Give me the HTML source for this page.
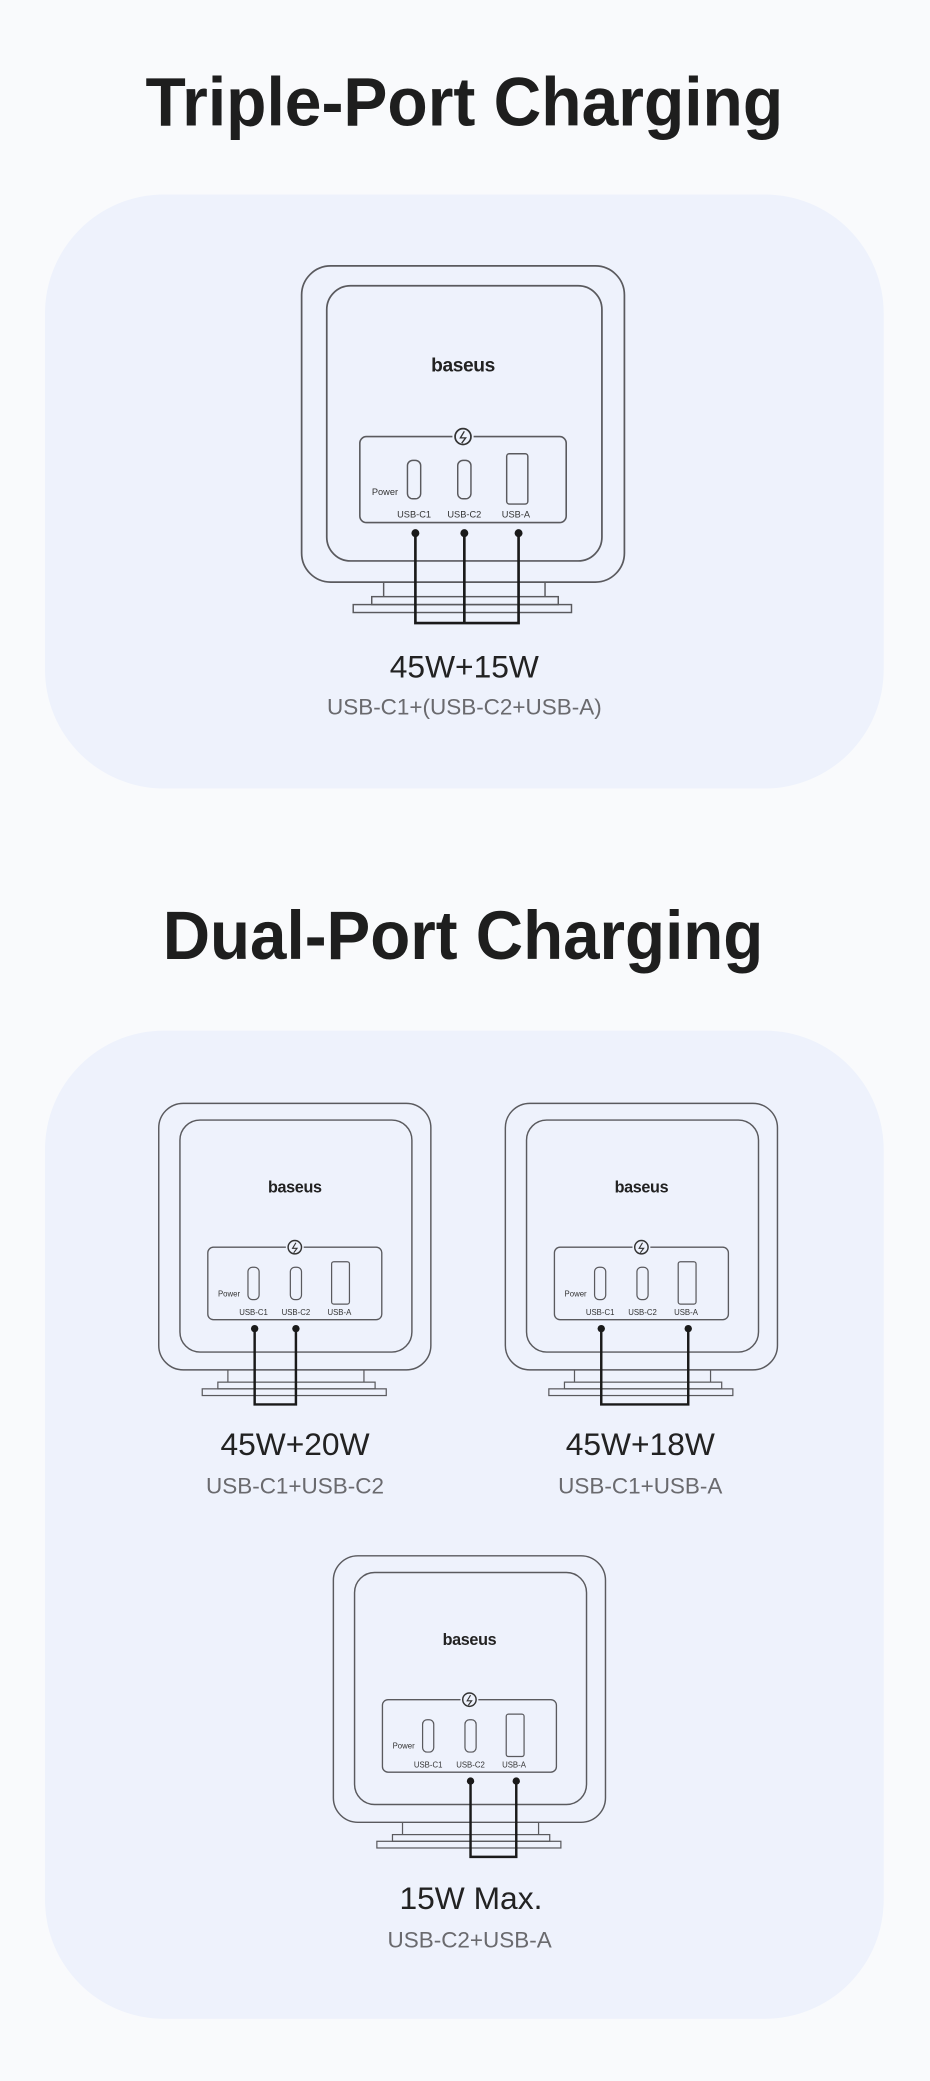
<!DOCTYPE html>
<html><head><meta charset="utf-8"><style>
html,body{margin:0;padding:0;background:#f9fafc;}
svg{display:block;}
text{font-family:"Liberation Sans",sans-serif;}
</style></head><body>
<svg width="930" height="2081" viewBox="0 0 703 1573" preserveAspectRatio="none" xmlns="http://www.w3.org/2000/svg">
<defs>
<g id="dev">
  <rect x="0" y="0" width="244" height="239" rx="22" fill="none" stroke="#5a5a5e" stroke-width="1.3"/>
  <rect x="19" y="15" width="208" height="208" rx="18" fill="none" stroke="#5a5a5e" stroke-width="1.3"/>
  <text x="122" y="80" font-size="14.5" font-weight="bold" text-anchor="middle" fill="#222" letter-spacing="-0.3">baseus</text>
  <rect x="44" y="129" width="156" height="65" rx="5" fill="none" stroke="#5a5a5e" stroke-width="1.2"/>
  <rect x="114" y="125" width="16" height="8" fill="#eef2fc"/>
  <circle cx="122" cy="129" r="6" fill="none" stroke="#333" stroke-width="1.3"/>
  <path d="M123 125 L120 130 L124 130 L121 134" fill="none" stroke="#333" stroke-width="1"/>
  <rect x="80" y="147" width="10" height="29" rx="4" fill="none" stroke="#5a5a5e" stroke-width="1.1"/>
  <rect x="118" y="147" width="10" height="29" rx="4" fill="none" stroke="#5a5a5e" stroke-width="1.1"/>
  <rect x="155" y="142" width="16" height="38" rx="2" fill="none" stroke="#5a5a5e" stroke-width="1.1"/>
  <text x="63" y="173" font-size="7" text-anchor="middle" fill="#333">Power</text>
  <text x="85" y="190" font-size="7" text-anchor="middle" fill="#333">USB-C1</text>
  <text x="123" y="190" font-size="7" text-anchor="middle" fill="#333">USB-C2</text>
  <text x="162" y="190" font-size="7" text-anchor="middle" fill="#333">USB-A</text>
  <path d="M62 239 V250 M184 239 V250" stroke="#5a5a5e" stroke-width="1.1" fill="none"/>
  <rect x="53" y="250" width="141" height="6" fill="none" stroke="#5a5a5e" stroke-width="1.1"/>
  <rect x="39" y="256" width="165" height="6" fill="none" stroke="#5a5a5e" stroke-width="1.1"/>
</g>
</defs>
<rect width="703" height="1573" fill="#f9fafc"/>
<text x="351" y="95" font-size="52" font-weight="bold" text-anchor="middle" fill="#1e1e1e" textLength="482" lengthAdjust="spacingAndGlyphs">Triple-Port Charging</text>
<rect x="34" y="147" width="634" height="449" rx="90" fill="#eef2fc"/>
<g transform="translate(228,201)">
  <use href="#dev"/>
  <path d="M86 202 V270 H164 V202 M123 202 V270" fill="none" stroke="#1a1a1a" stroke-width="2"/>
  <circle cx="86" cy="202" r="3" fill="#1a1a1a"/><circle cx="123" cy="202" r="3" fill="#1a1a1a"/><circle cx="164" cy="202" r="3" fill="#1a1a1a"/>
</g>
<text x="351" y="512" font-size="24" text-anchor="middle" fill="#222">45W+15W</text>
<text x="351" y="540" font-size="17" text-anchor="middle" fill="#6a6a6e">USB-C1+(USB-C2+USB-A)</text>

<text x="350" y="725" font-size="52" font-weight="bold" text-anchor="middle" fill="#1e1e1e" textLength="454" lengthAdjust="spacingAndGlyphs">Dual-Port Charging</text>
<rect x="34" y="779" width="634" height="747" rx="90" fill="#eef2fc"/>

<g transform="translate(120,834) scale(0.843)">
  <use href="#dev"/>
  <path d="M86 202 V270 H123 V202" fill="none" stroke="#1a1a1a" stroke-width="2.2"/>
  <circle cx="86" cy="202" r="3.3" fill="#1a1a1a"/><circle cx="123" cy="202" r="3.3" fill="#1a1a1a"/>
</g>
<text x="223" y="1100" font-size="24" text-anchor="middle" fill="#222">45W+20W</text>
<text x="223" y="1129" font-size="17" text-anchor="middle" fill="#6a6a6e">USB-C1+USB-C2</text>

<g transform="translate(382,834) scale(0.843)">
  <use href="#dev"/>
  <path d="M86 202 V270 H164 V202" fill="none" stroke="#1a1a1a" stroke-width="2.2"/>
  <circle cx="86" cy="202" r="3.3" fill="#1a1a1a"/><circle cx="164" cy="202" r="3.3" fill="#1a1a1a"/>
</g>
<text x="484" y="1100" font-size="24" text-anchor="middle" fill="#222">45W+18W</text>
<text x="484" y="1129" font-size="17" text-anchor="middle" fill="#6a6a6e">USB-C1+USB-A</text>

<g transform="translate(252,1176) scale(0.843)">
  <use href="#dev"/>
  <path d="M123 202 V270 H164 V202" fill="none" stroke="#1a1a1a" stroke-width="2.2"/>
  <circle cx="123" cy="202" r="3.3" fill="#1a1a1a"/><circle cx="164" cy="202" r="3.3" fill="#1a1a1a"/>
</g>
<text x="356" y="1443" font-size="24" text-anchor="middle" fill="#222">15W Max.</text>
<text x="355" y="1472" font-size="17" text-anchor="middle" fill="#6a6a6e">USB-C2+USB-A</text>
</svg>
</body></html>
